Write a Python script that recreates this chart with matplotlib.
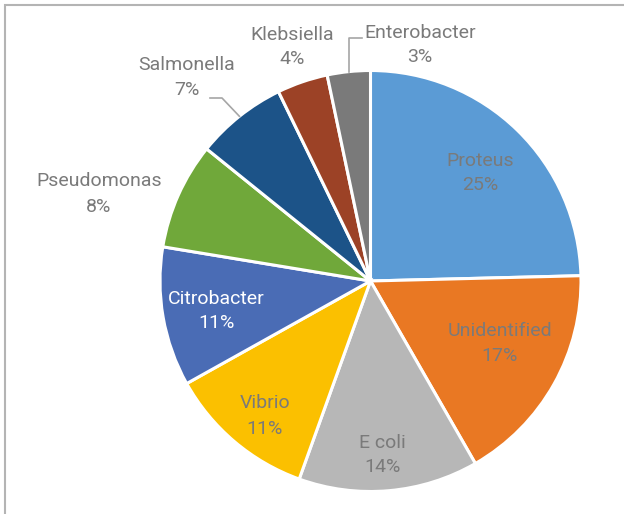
import numpy as np
import matplotlib
matplotlib.use("Agg")
import matplotlib.pyplot as plt
from matplotlib.patches import Rectangle

# bacteria isolated, share of isolates (%)
organisms = ["Proteus", "Unidentified", "E coli", "Vibrio", "Citrobacter",
             "Pseudomonas", "Salmonella", "Klebsiella", "Enterobacter"]
shares = [24.6, 17.1, 13.8, 11.4, 10.7, 8.2, 7.0, 3.9, 3.3]

colors = ["#5B9BD5", "#E97823", "#B7B7B7", "#FBC000", "#4A6CB5",
          "#70A83A", "#1C5388", "#9C4226", "#7A7A7A"]
text_colors = ["#7A7A7A"] * 9
text_colors[4] = "white"

W, H = 624, 514
cx, cy, R = 370.5, H - 281, 210.5

# label centres in pixels (from top-left), layout only
label_xy = [(480, 173), (499.5, 343.5), (382, 455), (265, 416), (216.5, 311),
            (99, 194), (186.5, 77.5), (292.5, 47), (420, 45)]

fig = plt.figure(figsize=(W / 100, H / 100), dpi=100)
ax = fig.add_axes([0, 0, 1, 1])

wedges, _ = ax.pie(shares, colors=colors, startangle=90, counterclock=False,
                   center=(cx, cy), radius=R,
                   wedgeprops=dict(edgecolor="white", linewidth=2.2))

font = ["Roboto", "DejaVu Sans"]
for name, val, (lx, ly), tc in zip(organisms, shares, label_xy, text_colors):
    ax.text(lx, H - ly, f"{name}\n{round(val)}%", ha="center", va="center",
            fontsize=14, color=tc, family=font, linespacing=1.5)


def edge_point(w):
    mid = np.deg2rad((w.theta1 + w.theta2) / 2)
    return cx + R * np.cos(mid), cy + R * np.sin(mid)


# leader lines for Salmonella and Enterobacter
ex, ey = edge_point(wedges[6])
ax.plot([210, 222, ex], [H - 98, H - 98, ey], color="#A6A6A6", lw=1.2)
ex, ey = edge_point(wedges[8])
ax.plot([362, ex, ex], [H - 38, H - 38, ey], color="#A6A6A6", lw=1.2)

ax.set_xlim(0, W)
ax.set_ylim(0, H)
ax.set_aspect("auto")
ax.axis("off")

# chart frame (cut off at right and bottom)
fig.patches.append(Rectangle((5 / W, -0.1), 1.2, (H - 5) / H + 0.1,
                             transform=fig.transFigure, fill=False,
                             edgecolor="#B4B4B4", lw=1.5))

fig.savefig("out.png", dpi=100, facecolor="white")
